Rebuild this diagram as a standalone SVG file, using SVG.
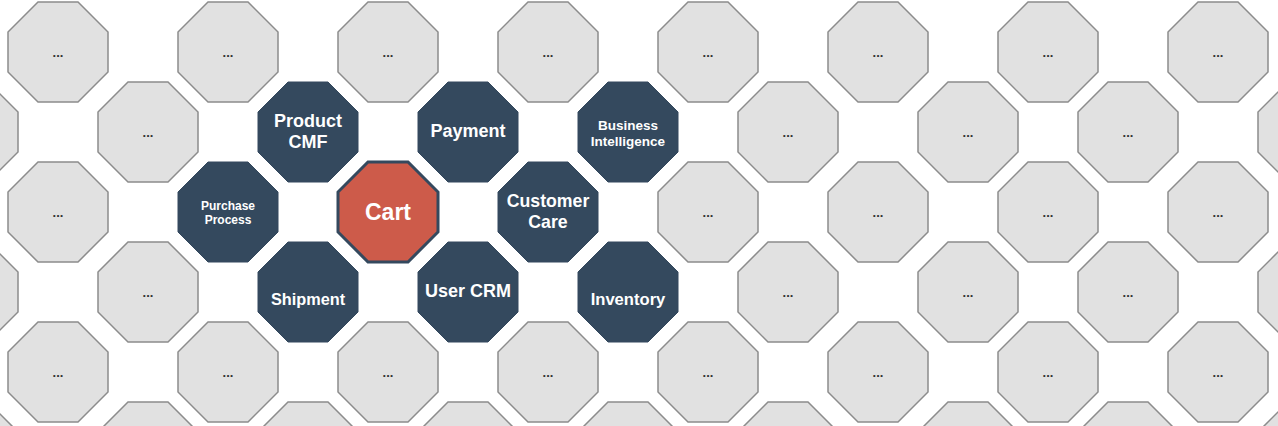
<svg xmlns="http://www.w3.org/2000/svg" xmlns:xlink="http://www.w3.org/1999/xlink" width="1278" height="426" viewBox="0 0 1278 426">
<style>
.g{fill:#e1e1e1;stroke:#8c8c8c;stroke-width:1.5}
.d{fill:#34495e;stroke:#34495e;stroke-width:1}
.c{fill:#cd5b4a;stroke:#34495e;stroke-width:3}
text{font-family:"Liberation Sans",Arial,sans-serif;font-weight:bold;text-anchor:middle}
.e{fill:#333333;font-size:13px}
.w{fill:#ffffff}
</style>
<defs>
<polygon id="oct" points="30,0 70,0 100,30 100,70 70,100 30,100 0,70 0,30"/>
</defs>
<rect width="1278" height="426" fill="#ffffff"/>
<g id="gray-nodes">
<g id="g1a"><use xlink:href="#oct" x="8" y="2" class="g"/><text class="e" x="58" y="57">...</text></g>
<g id="g1b"><use xlink:href="#oct" x="178" y="2" class="g"/><text class="e" x="228" y="57">...</text></g>
<g id="g1c"><use xlink:href="#oct" x="338" y="2" class="g"/><text class="e" x="388" y="57">...</text></g>
<g id="g1d"><use xlink:href="#oct" x="498" y="2" class="g"/><text class="e" x="548" y="57">...</text></g>
<g id="g1e"><use xlink:href="#oct" x="658" y="2" class="g"/><text class="e" x="708" y="57">...</text></g>
<g id="g1f"><use xlink:href="#oct" x="828" y="2" class="g"/><text class="e" x="878" y="57">...</text></g>
<g id="g1g"><use xlink:href="#oct" x="998" y="2" class="g"/><text class="e" x="1048" y="57">...</text></g>
<g id="g1h"><use xlink:href="#oct" x="1168" y="2" class="g"/><text class="e" x="1218" y="57">...</text></g>
<g id="g2a"><use xlink:href="#oct" x="-82" y="82" class="g"/></g>
<g id="g2b"><use xlink:href="#oct" x="98" y="82" class="g"/><text class="e" x="148" y="137">...</text></g>
<g id="g2c"><use xlink:href="#oct" x="738" y="82" class="g"/><text class="e" x="788" y="137">...</text></g>
<g id="g2d"><use xlink:href="#oct" x="918" y="82" class="g"/><text class="e" x="968" y="137">...</text></g>
<g id="g2e"><use xlink:href="#oct" x="1078" y="82" class="g"/><text class="e" x="1128" y="137">...</text></g>
<g id="g2f"><use xlink:href="#oct" x="1258" y="82" class="g"/></g>
<g id="g3a"><use xlink:href="#oct" x="8" y="162" class="g"/><text class="e" x="58" y="217">...</text></g>
<g id="g3b"><use xlink:href="#oct" x="658" y="162" class="g"/><text class="e" x="708" y="217">...</text></g>
<g id="g3c"><use xlink:href="#oct" x="828" y="162" class="g"/><text class="e" x="878" y="217">...</text></g>
<g id="g3d"><use xlink:href="#oct" x="998" y="162" class="g"/><text class="e" x="1048" y="217">...</text></g>
<g id="g3e"><use xlink:href="#oct" x="1168" y="162" class="g"/><text class="e" x="1218" y="217">...</text></g>
<g id="g4a"><use xlink:href="#oct" x="-82" y="242" class="g"/></g>
<g id="g4b"><use xlink:href="#oct" x="98" y="242" class="g"/><text class="e" x="148" y="297">...</text></g>
<g id="g4c"><use xlink:href="#oct" x="738" y="242" class="g"/><text class="e" x="788" y="297">...</text></g>
<g id="g4d"><use xlink:href="#oct" x="918" y="242" class="g"/><text class="e" x="968" y="297">...</text></g>
<g id="g4e"><use xlink:href="#oct" x="1078" y="242" class="g"/><text class="e" x="1128" y="297">...</text></g>
<g id="g4f"><use xlink:href="#oct" x="1258" y="242" class="g"/></g>
<g id="g5a"><use xlink:href="#oct" x="8" y="322" class="g"/><text class="e" x="58" y="377">...</text></g>
<g id="g5b"><use xlink:href="#oct" x="178" y="322" class="g"/><text class="e" x="228" y="377">...</text></g>
<g id="g5c"><use xlink:href="#oct" x="338" y="322" class="g"/><text class="e" x="388" y="377">...</text></g>
<g id="g5d"><use xlink:href="#oct" x="498" y="322" class="g"/><text class="e" x="548" y="377">...</text></g>
<g id="g5e"><use xlink:href="#oct" x="658" y="322" class="g"/><text class="e" x="708" y="377">...</text></g>
<g id="g5f"><use xlink:href="#oct" x="828" y="322" class="g"/><text class="e" x="878" y="377">...</text></g>
<g id="g5g"><use xlink:href="#oct" x="998" y="322" class="g"/><text class="e" x="1048" y="377">...</text></g>
<g id="g5h"><use xlink:href="#oct" x="1168" y="322" class="g"/><text class="e" x="1218" y="377">...</text></g>
<g id="g6a"><use xlink:href="#oct" x="-82" y="402" class="g"/></g>
<g id="g6b"><use xlink:href="#oct" x="98" y="402" class="g"/></g>
<g id="g6c"><use xlink:href="#oct" x="258" y="402" class="g"/></g>
<g id="g6d"><use xlink:href="#oct" x="418" y="402" class="g"/></g>
<g id="g6e"><use xlink:href="#oct" x="578" y="402" class="g"/></g>
<g id="g6f"><use xlink:href="#oct" x="738" y="402" class="g"/></g>
<g id="g6g"><use xlink:href="#oct" x="918" y="402" class="g"/></g>
<g id="g6h"><use xlink:href="#oct" x="1078" y="402" class="g"/></g>
<g id="g6i"><use xlink:href="#oct" x="1258" y="402" class="g"/></g>
</g>
<g id="connectors"/>
<g id="product-cmf"><use xlink:href="#oct" x="258" y="82" class="d"/><text class="w" font-size="18" x="308" y="127">Product</text><text class="w" font-size="18" x="308" y="148">CMF</text></g>
<g id="payment"><use xlink:href="#oct" x="418" y="82" class="d"/><text class="w" font-size="18" x="468" y="137">Payment</text></g>
<g id="business-intelligence"><use xlink:href="#oct" x="578" y="82" class="d"/><text class="w" font-size="13.5" x="628" y="130">Business</text><text class="w" font-size="13.5" x="628" y="146">Intelligence</text></g>
<g id="purchase-process"><use xlink:href="#oct" x="178" y="162" class="d"/><text class="w" font-size="12" x="228" y="210">Purchase</text><text class="w" font-size="12" x="228" y="223.5">Process</text></g>
<g id="cart"><use xlink:href="#oct" x="338" y="162" class="c"/><text class="w" font-size="23" x="388" y="219.5">Cart</text></g>
<g id="customer-care"><use xlink:href="#oct" x="498" y="162" class="d"/><text class="w" font-size="17.7" x="548" y="206.5">Customer</text><text class="w" font-size="17.7" x="548" y="227.5">Care</text></g>
<g id="shipment"><use xlink:href="#oct" x="258" y="242" class="d"/><text class="w" font-size="16.3" x="308" y="304.5">Shipment</text></g>
<g id="user-crm"><use xlink:href="#oct" x="418" y="242" class="d"/><text class="w" font-size="18" x="468" y="297">User CRM</text></g>
<g id="inventory"><use xlink:href="#oct" x="578" y="242" class="d"/><text class="w" font-size="16.6" x="628" y="305">Inventory</text></g>
</svg>
